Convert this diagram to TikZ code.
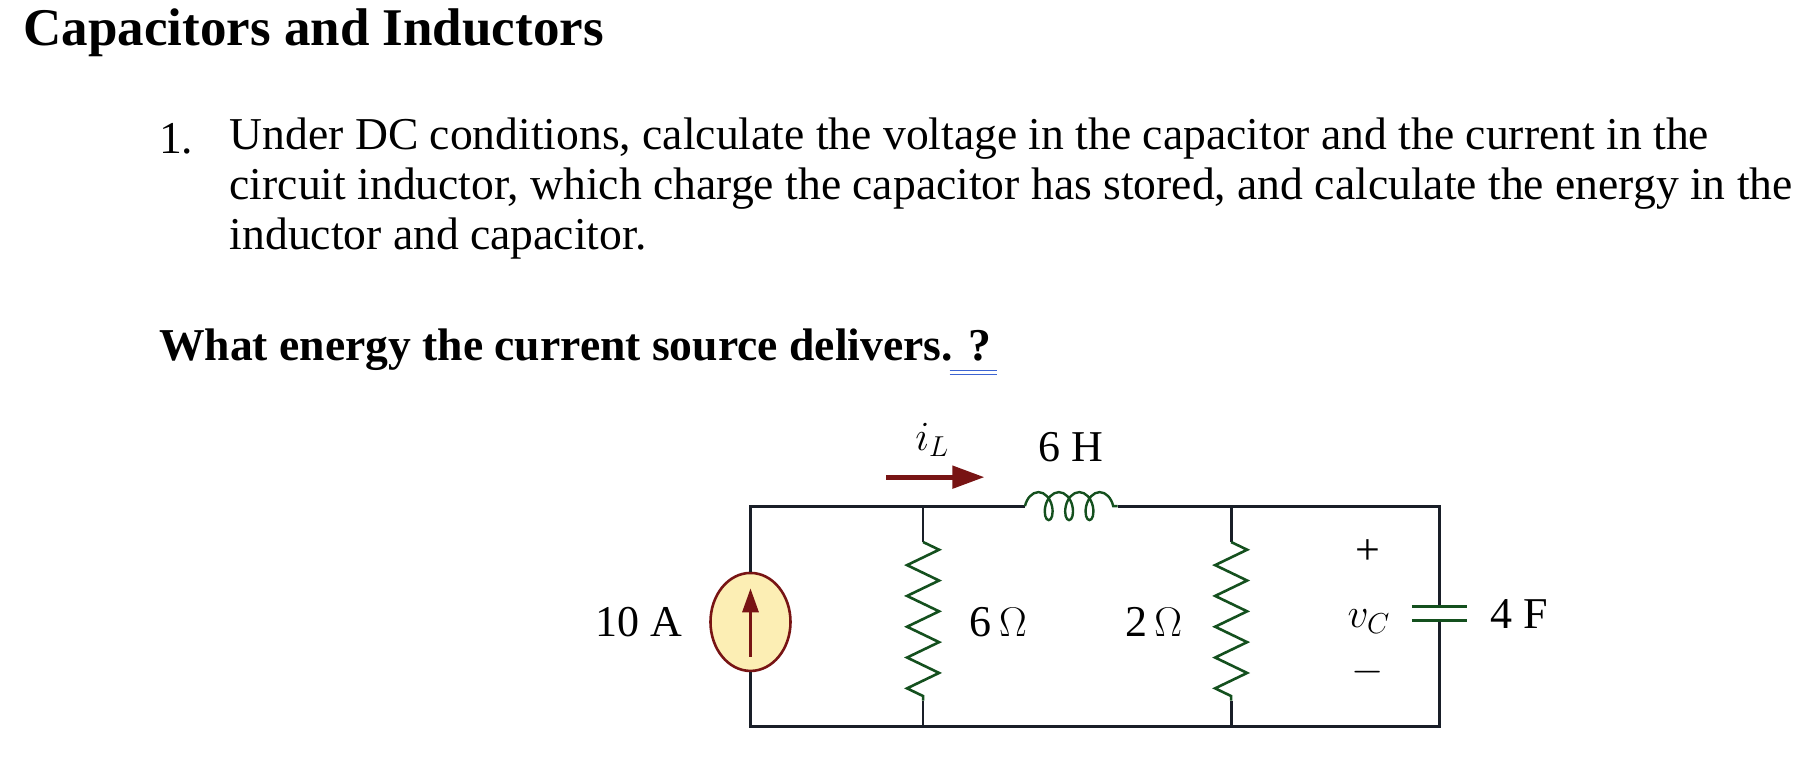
\documentclass[tikz,border=0pt]{standalone}
\usepackage{fontspec}
\setmainfont{Liberation Serif}
\usetikzlibrary{decorations.pathmorphing,arrows.meta,shapes.geometric}
\definecolor{wire}{RGB}{25,30,40}
\definecolor{elem}{RGB}{20,80,30}
\definecolor{src}{RGB}{120,20,20}
\definecolor{srcfill}{RGB}{252,238,180}
\definecolor{ulblue}{RGB}{60,100,210}
\tikzstyle{lbl} = [font=\fontsize{22}{24}\selectfont, inner sep=0pt]
\tikzstyle{txt} = [font=\fontsize{22.8}{26}\selectfont, anchor=west, inner sep=0pt]
\tikzstyle{wire} = [draw=wire, line width=1.4pt]
\tikzstyle{res} = [draw=elem, line width=1.3pt, decorate, decoration={zigzag, amplitude=8pt, segment length=15.4pt}]
\tikzstyle{coilz} = [draw=elem, line width=1.2pt, decorate, decoration={coil, amplitude=7pt, segment length=10.2pt, aspect=0.6}]
\begin{document}
\begin{tikzpicture}[x=0.579pt, y=-0.579pt]
\useasboundingbox (0,0) rectangle (1568,653);
% text
\node[txt, font=\fontsize{26.5}{30}\selectfont\bfseries] (title) at (20,28) {Capacitors and Inductors};
\node[txt] (num) at (137,120) {1.};
\node[txt] (l1) at (198,120) {Under DC conditions, calculate the voltage in the capacitor and the current in the};
\node[txt] (l2) at (198,163) {circuit inductor, which charge the capacitor has stored, and calculate the energy in the};
\node[txt] (l3) at (198,206) {inductor and capacitor.};
\node[txt, font=\fontsize{22.8}{26}\selectfont\bfseries] (ques) at (137,302) {What energy the current source delivers. ?};
\draw[ulblue, line width=0.7pt] (820,320) -- (861,320) (820,323.5) -- (861,323.5);
% corners
\coordinate (tl) at (648,437); \coordinate (bl) at (648,627);
\coordinate (ta) at (797,437); \coordinate (ba) at (797,627);
\coordinate (tb) at (1063,437); \coordinate (bb) at (1063,627);
\coordinate (tr) at (1243,437); \coordinate (br) at (1243,627);
\coordinate (la) at (885,437); \coordinate (lb) at (965,437);
% source
\node[draw=src, fill=srcfill, line width=1.3pt, ellipse, minimum width=40pt, minimum height=49pt, inner sep=0pt] (isrc) at (648,537) {};
\draw[src, line width=1.6pt, -{Triangle[length=12pt,width=8pt]}] (648,567) -- (648,508);
\draw[wire] (isrc.north) -- (tl) -- (ta) -- (la);
\draw[wire] (lb) -- (tb) -- (tr) -- (1243,524);
\draw[wire] (isrc.south) -- (bl) -- (br) -- (1243,536);
\draw[wire] (ta) -- (797,468); \draw[wire] (797,605) -- (ba);
\draw[wire] (tb) -- (1063,468); \draw[wire] (1063,605) -- (bb);
\draw[res] (797,468) -- (797,605);
\draw[res] (1063,468) -- (1063,605);
\draw[coilz] (la) -- (lb);
% capacitor
\draw[elem, line width=1.5pt] (1219,524) -- (1267,524);
\draw[elem, line width=1.5pt] (1219,536) -- (1267,536);
% current arrow
\draw[src, line width=2.4pt, -{Triangle[length=16pt,width=11pt]}] (765,412) -- (850,412);
% labels
\node[lbl] (isrclbl) at (552,537) {10 A};
\node[lbl] (ralbl) at (862,537) {6\,$\Omega$};
\node[lbl] (rblbl) at (996,537) {2\,$\Omega$};
\node[lbl] (vclbl) at (1182,537) {$v_C$};
\node[lbl] (plus) at (1181,477) {+};
\node[lbl] (minus) at (1181,580) {$-$};
\node[lbl] (clbl) at (1312,530) {4 F};
\node[lbl] (llbl) at (925,386) {6 H};
\node[lbl] (illbl) at (805,380) {$i_L$};
\end{tikzpicture}
\end{document}
